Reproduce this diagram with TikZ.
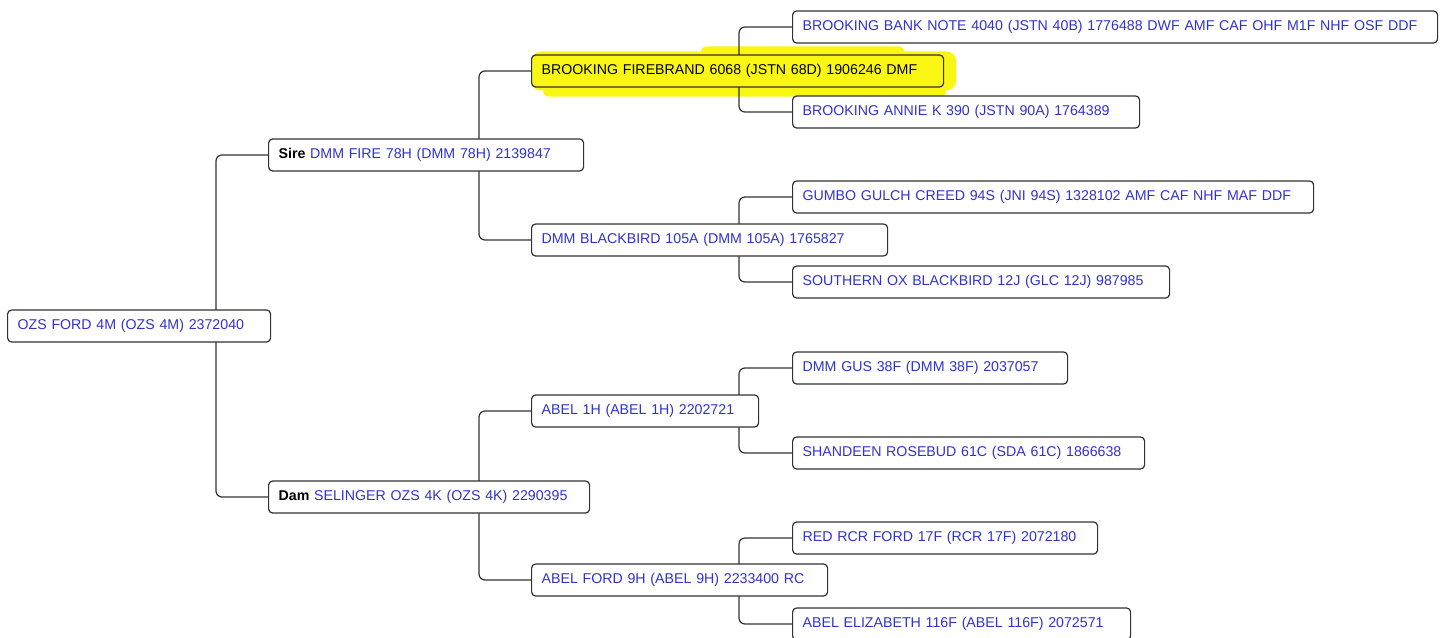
\documentclass[tikz,border=0pt]{standalone}
\usepackage{fontspec}
\setmainfont{Liberation Sans}
\usepackage{tikz}
\usetikzlibrary{positioning,calc,backgrounds}
\definecolor{pedBlue}{RGB}{50,50,205}
\definecolor{pedLine}{RGB}{50,50,50}
\definecolor{hlYellow}{RGB}{250,246,20}
\tikzset{
  pedbox/.style={rounded corners=4pt, draw=pedLine, fill=white, line width=1.2pt,
                 anchor=west, minimum height=32pt, inner xsep=10pt, text=pedBlue,
                 font=\fontsize{14.2}{16}\selectfont, text width=#1-20pt, align=left},
  hlbox/.style={pedbox=#1, fill=hlYellow, text=black},
  link/.style={draw=pedLine, line width=1.2pt, rounded corners=6pt}
}
\begin{document}
\begin{tikzpicture}[x=1pt, y=-1pt]
\useasboundingbox (0,0) rectangle (1450,637);
% generation 0
\node[pedbox=263pt] (root) at (7,326) {OZS FORD 4M (OZS 4M) 2372040};
% generation 1
\node[pedbox=315pt] (sire) at (268,155) {\textcolor{black}{\textbf{Sire}} DMM FIRE 78H (DMM 78H) 2139847};
\node[pedbox=321pt] (dam) at (268,497) {\textcolor{black}{\textbf{Dam}} SELINGER OZS 4K (OZS 4K) 2290395};
% generation 2
\node[hlbox=412pt] (fire) at (531,71) {BROOKING FIREBRAND 6068 (JSTN 68D) 1906246 DMF};
\node[pedbox=356pt] (blackbird) at (531,240) {DMM BLACKBIRD 105A (DMM 105A) 1765827};
\node[pedbox=227pt] (abelh) at (531,411) {ABEL 1H (ABEL 1H) 2202721};
\node[pedbox=296pt] (abelford) at (531,580) {ABEL FORD 9H (ABEL 9H) 2233400 RC};
% generation 3
\node[pedbox=645pt] (banknote) at (792,27) {BROOKING BANK NOTE 4040 (JSTN 40B) 1776488 DWF AMF CAF OHF M1F NHF OSF DDF};
\node[pedbox=347pt] (annie) at (792,112) {BROOKING ANNIE K 390 (JSTN 90A) 1764389};
\node[pedbox=521pt] (gumbo) at (792,197) {GUMBO GULCH CREED 94S (JNI 94S) 1328102 AMF CAF NHF MAF DDF};
\node[pedbox=377pt] (southern) at (792,282) {SOUTHERN OX BLACKBIRD 12J (GLC 12J) 987985};
\node[pedbox=275pt] (gus) at (792,368) {DMM GUS 38F (DMM 38F) 2037057};
\node[pedbox=352pt] (shandeen) at (792,453) {SHANDEEN ROSEBUD 61C (SDA 61C) 1866638};
\node[pedbox=305pt] (redrcr) at (792,538) {RED RCR FORD 17F (RCR 17F) 2072180};
\node[pedbox=338pt] (elizabeth) at (792,624) {ABEL ELIZABETH 116F (ABEL 116F) 2072571};
\begin{scope}[on background layer]
% marker strokes round the firebrand box
\fill[hlYellow, rounded corners=10pt] ([shift={(0,3)}]fire.south west) rectangle ([shift={(12,-3)}]fire.north east);
\fill[hlYellow, rounded corners=5pt] ([shift={(12,9)}]fire.south west) rectangle ([shift={(2,0)}]fire.south east);
\fill[hlYellow, rounded corners=5pt] ([shift={(170,-8)}]fire.north west) rectangle ([shift={(-40,0)}]fire.north east);
% brackets parent -> sire/dam
\draw[link] (sire.west) -- ++(-52,0) |- (dam.west);
\draw[link] (fire.west) -- ++(-52,0) |- (blackbird.west);
\draw[link] (abelh.west) -- ++(-52,0) |- (abelford.west);
\draw[link] (banknote.west) -- ++(-53,0) |- (annie.west);
\draw[link] (gumbo.west) -- ++(-53,0) |- (southern.west);
\draw[link] (gus.west) -- ++(-53,0) |- (shandeen.west);
\draw[link] (redrcr.west) -- ++(-53,0) |- (elizabeth.west);
\end{scope}
\end{tikzpicture}
\end{document}
